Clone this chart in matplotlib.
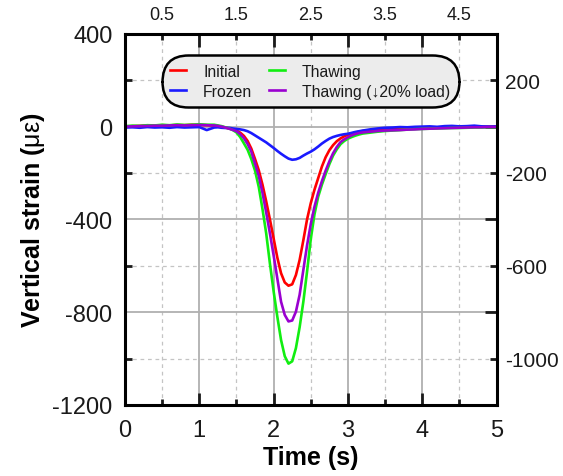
import numpy as np
import matplotlib
matplotlib.use('Agg')
import matplotlib.pyplot as plt

plt.rcParams['font.family'] = ['Liberation Sans', 'DejaVu Sans']
plt.rcParams['mathtext.fontset'] = 'custom'
plt.rcParams['mathtext.rm'] = 'Liberation Sans'
plt.rcParams['axes.unicode_minus'] = False

# time axis (s)
time = [0.0, 0.1, 0.2, 0.3, 0.4, 0.5, 0.6, 0.7, 0.8, 0.9, 1.0, 1.1,
        1.2, 1.25, 1.3, 1.35, 1.4, 1.45, 1.5, 1.55, 1.6, 1.65, 1.7, 1.75,
        1.8, 1.85, 1.9, 1.95, 2.0, 2.05, 2.1, 2.15, 2.2, 2.25, 2.3, 2.35,
        2.4, 2.45, 2.5, 2.55, 2.6, 2.65, 2.7, 2.75, 2.8, 2.85, 2.9, 2.95,
        3.0, 3.05, 3.1, 3.15, 3.2,
        3.3, 3.4, 3.5, 3.6, 3.7, 3.8, 3.9, 4.0, 4.1, 4.2, 4.3, 4.4, 4.5,
        4.6, 4.7, 4.8, 4.9, 5.0]

initial = [0, 2, 3, 5, 4, 6, 5, 7, 6, 8, 7, 6,
           4, 2, -1, -4, -8, -12, -17, -26, -40, -62, -95, -140,
           -188, -250, -322, -400, -482, -565, -632, -672, -686, -680, -640, -575,
           -490, -400, -330, -272, -222, -172, -132, -102, -80, -63, -51, -42,
           -35, -30, -26, -22, -19,
           -15, -12, -10, -9, -8, -7, -6, -5, -5, -4, -3, -3, -2,
           -2, -1, -1, 0, 0]

frozen = [-4, -3, -5, -2, -4, -3, -5, -2, -4, -3, -2, -15,
          -4, -3, -5, -6, -5, -8, -10, -12, -15, -20, -28, -38,
          -48, -58, -68, -80, -92, -105, -117, -128, -138, -143, -141, -135,
          -125, -116, -108, -98, -86, -73, -62, -52, -45, -40, -36, -33,
          -31, -27, -23, -20, -17,
          -12, -8, -5, -4, -2, -3, -1, 0, 1, -1, 2, 3, 1,
          2, 4, 1, 0, 1]

thawing = [2, 4, 3, 6, 5, 8, 6, 9, 7, 8, 10, 8,
           8, 5, 2, -3, -8, -15, -25, -45, -72, -100, -140, -190,
           -260, -355, -460, -590, -710, -820, -920, -990, -1022, -1012, -955, -865,
           -755, -625, -485, -378, -302, -250, -205, -162, -125, -98, -76, -62,
           -52, -45, -39, -34, -30,
           -26, -22, -19, -17, -15, -13, -11, -10, -9, -8, -7, -6, -6,
           -5, -4, -4, -3, -3]

thawing_low = [0, 1, 2, 3, 4, 4, 5, 6, 5, 6, 7, 6,
               5, 3, 0, -4, -9, -14, -20, -32, -50, -75, -108, -160,
               -212, -285, -370, -460, -555, -655, -755, -812, -840, -836, -798, -725,
               -618, -512, -420, -345, -285, -235, -190, -150, -115, -88, -67, -55,
               -46, -38, -32, -28, -25,
               -22, -19, -17, -16, -15, -13, -12, -10, -9, -8, -7, -6, -5,
               -4, -3, -3, -2, -2]

labels = ['Initial', 'Frozen', 'Thawing', 'Thawing (\u219320% load)']
colors = ['#ff0000', '#1a1aff', '#11ee11', '#9a00d0']

xmajor = [0, 1, 2, 3, 4, 5]
xminor = [0.5, 1.5, 2.5, 3.5, 4.5]
ymajor = [400, 0, -400, -800, -1200]
yminor = [200, -200, -600, -1000]

fig = plt.figure(figsize=(5.63, 4.77), dpi=100)
ax = fig.add_axes([0.222, 0.149, 0.66, 0.778])

for y, lab, c in zip([initial, frozen, thawing, thawing_low], labels, colors):
    ax.plot(time, y, color=c, lw=1.9, label=lab)

ax.set_xlim(0, 5)
ax.set_ylim(-1200, 400)

ax.set_xticks(xmajor)
ax.set_xticks(xminor, labels=[str(v) for v in xminor], minor=True)
ax.set_yticks(ymajor)
ax.set_yticks(yminor, labels=[str(v) for v in yminor], minor=True)

ax.grid(which='major', color='#b0b0b0', lw=1.3, ls='-')
ax.grid(which='minor', color='#c4c4c4', lw=0.9, ls=(0, (3, 3)))
ax.set_axisbelow(True)

for s in ax.spines.values():
    s.set_linewidth(2.2)

ax.tick_params(axis='x', which='major', direction='in', length=9, width=2,
               top=True, bottom=True, labelbottom=True, labeltop=False,
               labelsize=17, colors='#1a1a1a', pad=10)
ax.tick_params(axis='x', which='minor', direction='in', length=4, width=2,
               top=True, bottom=True, labelbottom=False, labeltop=True,
               labelsize=13, colors='#1a1a1a', pad=8)
ax.tick_params(axis='y', which='major', direction='in', length=9, width=2,
               left=False, right=True, labelleft=True, labelright=False,
               labelsize=17, colors='#1a1a1a', pad=9)
ax.tick_params(axis='y', which='minor', direction='in', length=5, width=2,
               left=True, right=True, labelleft=False, labelright=True,
               labelsize=15, colors='#1a1a1a', pad=6)

ax.set_xlabel('Time (s)', fontsize=18, fontweight='bold', labelpad=3)
ax.set_ylabel('Vertical strain ($\\mathrm{\u03bc\u03b5}$)', fontsize=18,
              fontweight='bold', labelpad=4)

leg = ax.legend(loc='center', bbox_to_anchor=(0.498, 0.872), ncol=2,
                fontsize=11.3, handlelength=1.0, handletextpad=1.1,
                columnspacing=1.05, labelspacing=0.3, borderpad=0.55,
                fancybox=True, framealpha=1)
frame = leg.get_frame()
frame.set_boxstyle('round,pad=0,rounding_size=1.7')
frame.set_facecolor('#ececec')
frame.set_edgecolor('black')
frame.set_linewidth(1.8)
for txt in leg.get_texts():
    txt.set_color('#1a1a1a')

fig.savefig('out.png', dpi=100)
